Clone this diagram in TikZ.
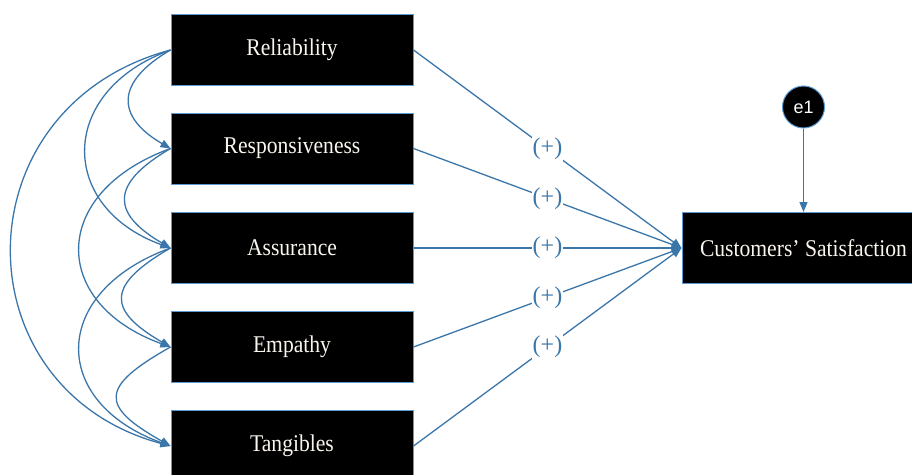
\documentclass[tikz,border=0pt]{standalone}
\usepackage{fontspec}
\setmainfont[FakeStretch=0.9]{Liberation Serif}
\newfontfamily\plainserif{Liberation Serif}
\newfontfamily\labelsans{Liberation Sans}
\usetikzlibrary{arrows.meta}
\definecolor{lineblue}{RGB}{58,118,170}
\definecolor{edgeblue}{RGB}{91,155,213}
\definecolor{txt}{RGB}{250,246,238}
\begin{document}
\begin{tikzpicture}[x=1pt,y=-1pt,
  varbox/.style={draw=edgeblue, line width=1pt, fill=black, text=txt,
    minimum width=242pt, minimum height=71pt, inner sep=0pt,
    font=\fontsize{24}{28}\selectfont},
  conn/.style={draw=lineblue, line width=1.3pt, -{Triangle[length=10pt,width=8pt]}},
  sign/.style={fill=white, text=lineblue, inner sep=1pt,
    font=\plainserif\fontsize{24}{26}\selectfont},
  errc/.style={circle, draw=edgeblue, line width=1pt, fill=black, text=white,
    minimum size=42pt, inner sep=0pt, font=\labelsans\fontsize{18}{20}\selectfont}]
\clip (0,0) rectangle (912,474);
\node[varbox] (rel) at (292,50) {Reliability};
\node[varbox] (res) at (292,148.5) {Responsiveness};
\node[varbox] (ass) at (292,248) {Assurance};
\node[varbox] (emp) at (292,347) {Empathy};
\node[varbox] (tan) at (292,446) {Tangibles};
\node[varbox, minimum width=243pt] (cs) at (803.5,248) {Customers’ Satisfaction};
\node[errc] (e1) at (803.5,107) {e1};
\foreach \n in {rel,res,ass,emp,tan}
  \draw[conn] (\n.east) -- node[sign]{(+)} (cs.west);
\draw[conn] (e1.south) -- (cs.north);
\draw[conn] (rel.west) .. controls +(-55,32) and +(-55,-32) .. (res.west);
\draw[conn] (rel.west) .. controls +(-113,41) and +(-113,-41) .. (ass.west);
\draw[conn] (rel.west) .. controls +(-212,57) and +(-212,-57) .. (tan.west);
\draw[conn] (res.west) .. controls +(-60,35) and +(-60,-35) .. (ass.west);
\draw[conn] (res.west) .. controls +(-121,44) and +(-121,-44) .. (emp.west);
\draw[conn] (ass.west) .. controls +(-64,37) and +(-64,-37) .. (emp.west);
\draw[conn] (ass.west) .. controls +(-121,44) and +(-121,-44) .. (tan.west);
\draw[conn] (emp.west) .. controls +(-71,40) and +(-71,-40) .. (tan.west);
\end{tikzpicture}
\end{document}
